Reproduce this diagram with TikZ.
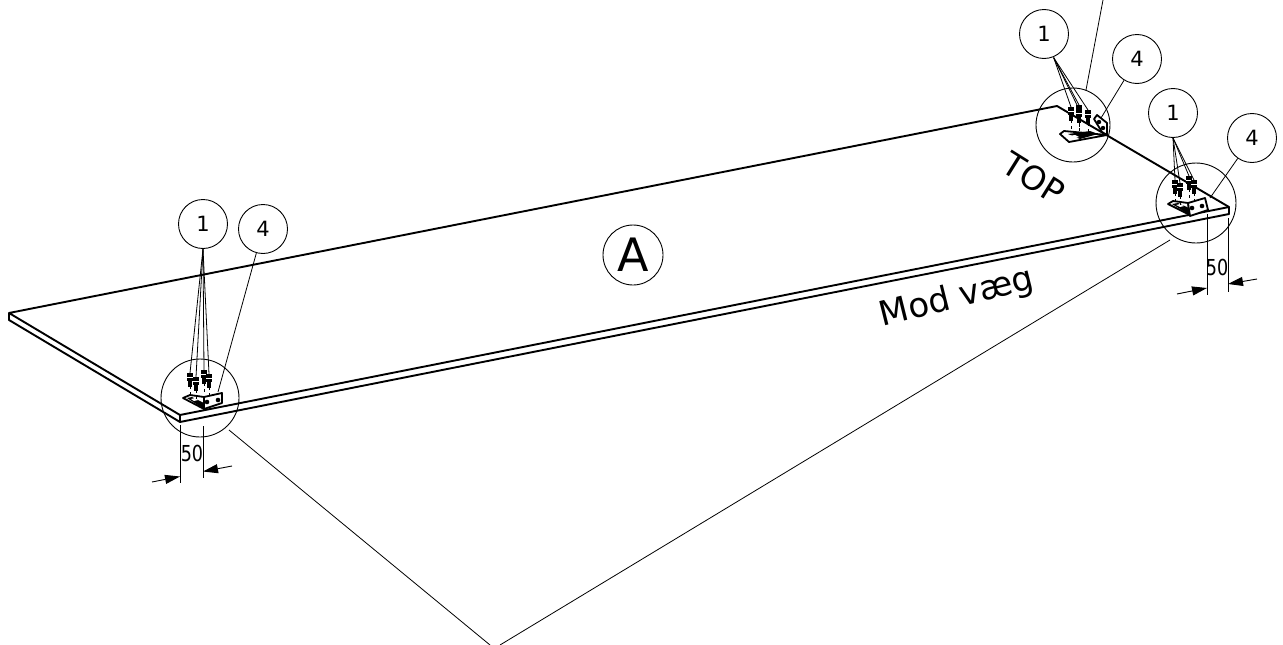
\documentclass[tikz,border=0pt]{standalone}
\usepackage{fontspec}
\setmainfont{DejaVu Sans}
\usetikzlibrary{calc}
\usetikzlibrary{arrows.meta}
\tikzstyle{bubble} = [draw, circle, line width=.9pt, minimum size=49pt, inner sep=0pt, font=\fontsize{21}{21}\selectfont]
\tikzstyle{detail} = [draw, circle, line width=.9pt, inner sep=0pt]
\tikzstyle{plate} = [line width=1.9pt, line join=round]
\tikzstyle{thin} = [line width=.9pt]
\tikzstyle{lead} = [line width=.8pt]
\tikzstyle{bracket} = [line width=1.8pt, fill=white, line join=round]
\tikzstyle{dimtip} = [-{Triangle[length=15pt,width=9pt]}, line width=.9pt]
\tikzstyle{dimtext} = [inner sep=0pt, font=\fontsize{22}{22}\selectfont, xscale=.8, transform shape]
% one screw, drawn at a named coordinate
\newcommand{\screw}[1]{
  \draw [thin, dashed] (#1)+(0,8) -- +(0,19);
  \fill (#1)+(-3,-5) rectangle +(3,3);
  \fill (#1)+(-1.8,3) rectangle +(1.8,9);
  \draw [white, line width=.6pt] (#1)+(-3,-1) -- +(3,-1);
}
\begin{document}
\begin{tikzpicture}[x=1pt, y=-1pt]
\useasboundingbox (0,0) rectangle (1283,645);
% plate
\coordinate (pl) at (9,313);
\coordinate (plb) at (9,320);
\coordinate (pf) at (180,415);
\coordinate (pfb) at (180,422);
\coordinate (pr) at (1229,207);
\coordinate (prb) at (1229,214);
\coordinate (pb) at (1057,106);
\draw [plate] (pf) -- (pl) -- (pb) -- (pr) -- (prb) -- (pfb) -- (plb) -- (pl);
\draw [plate] (pf) -- (pfb);
\draw [plate] (pf) -- (pr);
% bubbles
\node [bubble] (oneL) at (203,224) {1};
\node [bubble] (fourL) at (263,229) {4};
\node [bubble] (oneT) at (1044,34) {1};
\node [bubble] (fourT) at (1137,59) {4};
\node [bubble] (oneR) at (1173,113) {1};
\node [bubble] (fourR) at (1252,138) {4};
\node [draw, circle, line width=.9pt, minimum size=60pt, inner sep=0pt, font=\fontsize{46}{46}\selectfont] (A) at (633,255) {A};
% detail circles
\node [detail, minimum size=78pt] (detL) at (200,398) {};
\node [detail, minimum size=74pt] (detT) at (1073,125) {};
\node [detail, minimum size=80pt] (detR) at (1196,203) {};
% long leaders
\coordinate (apex) at (490,645);
\coordinate (apexb) at (500,645);
\coordinate (topend) at (1103,0);
\draw [lead] (detL) ++(29,32) -- (apex);
\draw [lead] (detR) ++(-26,37) -- (apexb);
\draw [lead] (detT) ++(13,-35) -- (topend);
% left bracket
\filldraw [bracket] (183,398) -- (190,395) -- (204,397) -- (204,409) -- cycle;
\fill (187,398) -- (192,397) -- (204,403) -- (204,409) -- cycle;
\fill [white] (191,399) -- (195,398) -- (198,400) -- (194,401) -- cycle;
\filldraw [bracket] (204,397) -- (222,393) -- (222,403) -- (204,409) -- cycle;
\fill (207,402) circle (2.3) (218,400) circle (2.3);
\coordinate (sa) at (190,378);
\coordinate (sb) at (196,382);
\coordinate (sc) at (204,375);
\coordinate (sd) at (209,379);
\foreach \s in {sa,sb,sc,sd} {\screw{\s}}
\foreach \s in {sa,sb,sc,sd} {\draw [lead] (oneL.south) -- ($(\s)+(0,-5)$);}
\coordinate (brL) at (218,392);
\draw [lead] (fourL) -- (brL);
% top bracket
\filldraw [bracket] (1060,134) -- (1064,131) -- (1107,135) -- (1069,142) -- cycle;
\fill (1068,134) -- (1090,131) -- (1098,134) -- (1080,139) -- cycle;
\fill [white] (1068,136) -- (1075,135) -- (1079,137) -- (1072,139) -- cycle;
\filldraw [bracket] (1094,119) -- (1097,115) -- (1107,123) -- (1107,135) -- (1102,132) -- cycle;
\fill (1099,122) circle (2.2) (1103,128) circle (2.2);
\coordinate (ta) at (1071,112);
\coordinate (tb) at (1079,110);
\coordinate (tc) at (1079,114);
\coordinate (td) at (1088,115);
\foreach \s in {ta,tb,tc,td} {\screw{\s}}
\foreach \s in {ta,tb,tc,td} {\draw [lead] (oneT.south east) ++(-8,6) -- ($(\s)+(0,-5)$);}
\coordinate (brT) at (1101,118);
\draw [lead] (fourT) -- (brT);
% right bracket
\filldraw [bracket] (1168,204) -- (1173,201) -- (1188,203) -- (1190,215) -- cycle;
\fill (1172,204) -- (1178,203) -- (1189,208) -- (1190,215) -- cycle;
\fill [white] (1176,205) -- (1180,204) -- (1184,206) -- (1180,207) -- cycle;
\filldraw [bracket] (1188,203) -- (1205,198) -- (1208,210) -- (1190,216) -- cycle;
\fill (1192,208) circle (2.3) (1202,206) circle (2.3);
\coordinate (ra) at (1175,185);
\coordinate (rb) at (1180,188);
\coordinate (rc) at (1189,181);
\coordinate (rd) at (1194,185);
\foreach \s in {ra,rb,rc,rd} {\screw{\s}}
\foreach \s in {ra,rb,rc,rd} {\draw [lead] (oneR.south) -- ($(\s)+(0,-5)$);}
\coordinate (brR) at (1210,198);
\draw [lead] (fourR) -- (brR);
% dimension left
\draw [thin] (180,425) -- (180,483);
\draw [thin] (203,426) -- (203,478);
\coordinate (dla) at (152,482);
\coordinate (dlb) at (180,476.5);
\coordinate (dlc) at (232,466);
\coordinate (dld) at (203,471.5);
\draw [dimtip] (dla) -- (dlb);
\draw [dimtip] (dlc) -- (dld);
\node [dimtext] (dimL) at (192,453) {50};
% dimension right
\draw [thin] (1207,214) -- (1207,295);
\draw [thin] (1228,218) -- (1228,292);
\coordinate (dra) at (1177,294);
\coordinate (drb) at (1207,288);
\coordinate (drc) at (1257,279);
\coordinate (drd) at (1228,284);
\draw [dimtip] (dra) -- (drb);
\draw [dimtip] (drc) -- (drd);
\node [dimtext] (dimR) at (1217,267) {50};
% texts
\node [inner sep=0pt, rotate=-32, font=\fontsize{33}{33}\selectfont] (top) at (1034,178) {TOP};
\node [inner sep=0pt, rotate=14, font=\fontsize{34}{34}\selectfont] (wall) at (957,298) {Mod væg};
\end{tikzpicture}
\end{document}
